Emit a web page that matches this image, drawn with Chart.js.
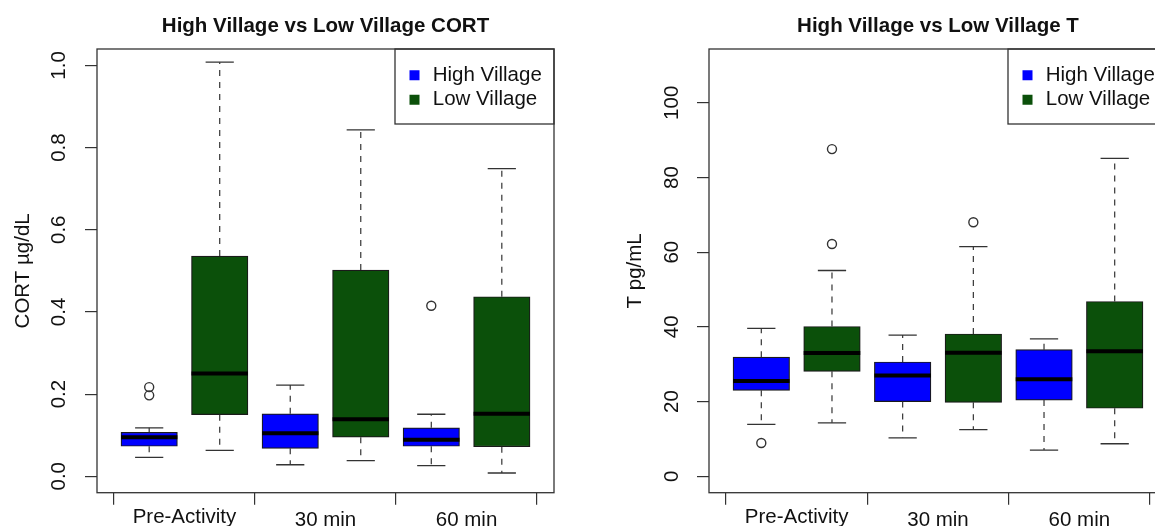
<!DOCTYPE html>
<html>
<head>
<meta charset="utf-8">
<script src="https://cdn.jsdelivr.net/npm/chart.js@4.4.1/dist/chart.umd.min.js"></script>
<style>
html, body { margin: 0; padding: 0; background: #ffffff; overflow: hidden; width: 1155px; height: 526px; }
#c1 { position: absolute; left: 0; top: 0; }
#c2 { position: absolute; left: 600px; top: 0; }
</style>
</head>
<body>
<canvas id="c1" width="578" height="526"></canvas>
<canvas id="c2" width="600" height="526"></canvas>
<script>
// ---------- data ----------
const categories = ['Pre-Activity', '30 min', '60 min'];
const groups = ['High Village', 'Low Village'];

// CORT (µg/dL)
const cortHighMin = [0.046, 0.028, 0.026];
const cortHighQ1  = [0.073, 0.068, 0.073];
const cortHighMed = [0.095, 0.105, 0.089];
const cortHighQ3  = [0.107, 0.152, 0.118];
const cortHighMax = [0.118, 0.222, 0.151];
const cortHighOut = [[0.197, 0.217], [], [0.415]];
const cortLowMin  = [0.063, 0.038, 0.008];
const cortLowQ1   = [0.150, 0.095, 0.072];
const cortLowMed  = [0.250, 0.139, 0.152];
const cortLowQ3   = [0.536, 0.502, 0.437];
const cortLowMax  = [1.008, 0.843, 0.749];
const cortLowOut  = [[], [], []];
const cortTicks   = [0, 0.2, 0.4, 0.6, 0.8, 1.0];

// T (pg/mL)
const tHighMin = [13.9, 10.3, 7.0];
const tHighQ1  = [23.0, 20.0, 20.4];
const tHighMed = [25.5, 27.0, 26.0];
const tHighQ3  = [31.9, 30.6, 33.9];
const tHighMax = [39.6, 37.8, 36.8];
const tHighOut = [[8.9], [], []];
const tLowMin  = [14.3, 12.5, 8.7];
const tLowQ1   = [28.1, 19.8, 18.2];
const tLowMed  = [33.0, 33.1, 33.5];
const tLowQ3   = [40.1, 38.1, 46.8];
const tLowMax  = [55.1, 61.5, 85.1];
const tLowOut  = [[62.2, 87.6], [68.0], []];
const tTicks   = [0, 20, 40, 60, 80, 100];

// ---------- styling ----------
const FONT = "'Liberation Sans', Arial, Helvetica, sans-serif";
const TXT = '#111111';
const LINE = '#333333';
const COLORS = ['#0000ff', '#0b500a'];

const framePlugin = {
  id: 'frame',
  afterLayout(chart, args, opts) {
    const lg = chart.legend;
    const a = chart.chartArea;
    if (!lg) return;
    const fl = a.right - opts.legendW;
    lg.left = fl + 7.5;
    lg.top = a.top + 12;
    lg.right = a.right;
    lg.bottom = a.top + opts.legendH;
  },
  afterDraw(chart, args, opts) {
    const { ctx, chartArea: a } = chart;
    ctx.save();
    ctx.strokeStyle = opts.color;
    ctx.lineWidth = opts.width;
    ctx.strokeRect(a.left, a.top, a.right - a.left, a.bottom - a.top);
    ctx.strokeRect(a.right - opts.legendW, a.top, opts.legendW, opts.legendH);
    ctx.restore();
  }
};

function boxPx(ctx) {
  const x = ctx.chart.scales.x;
  if (!x) return 56;
  return Math.abs(x.getPixelForValue(0.8) - x.getPixelForValue(0));
}

function makeChart(id, spec) {
  const series = [spec.high, spec.low];
  const posOf = (i, g) => 2 * i + 1 + g;
  const datasets = [];
  series.forEach((d, g) => {
    datasets.push({
      type: 'bar',
      label: groups[g],
      data: categories.map((c, i) => ({ x: posOf(i, g), y: [d.q1[i], d.q3[i]] })),
      backgroundColor: COLORS[g],
      borderColor: '#1a1a1a',
      borderWidth: 1.2,
      borderSkipped: false,
      grouped: false,
      barThickness: boxPx,
      order: 5
    });
  });
  const whisk = [], caps = [], meds = [], outs = [];
  series.forEach((d, g) => categories.forEach((c, i) => {
    const p = posOf(i, g);
    whisk.push({ x: p, y: d.q3[i] }, { x: p, y: d.max[i] }, { x: p, y: null },
               { x: p, y: d.q1[i] }, { x: p, y: d.min[i] }, { x: p, y: null });
    caps.push({ x: p - 0.2, y: d.max[i] }, { x: p + 0.2, y: d.max[i] }, { x: p, y: null },
              { x: p - 0.2, y: d.min[i] }, { x: p + 0.2, y: d.min[i] }, { x: p, y: null });
    meds.push({ x: p - 0.4, y: d.med[i] }, { x: p + 0.4, y: d.med[i] }, { x: p, y: null });
    d.out[i].forEach(v => outs.push({ x: p, y: v }));
  }));
  datasets.push({
    type: 'line', label: 'whiskers', data: whisk, borderColor: LINE, borderWidth: 1.2,
    borderDash: [6, 6], pointRadius: 0, spanGaps: false, fill: false, tension: 0, order: 4
  });
  datasets.push({
    type: 'line', label: 'staples', data: caps, borderColor: LINE, borderWidth: 1.3,
    pointRadius: 0, spanGaps: false, fill: false, tension: 0, order: 4
  });
  datasets.push({
    type: 'line', label: 'medians', data: meds, borderColor: '#000000', borderWidth: 4,
    borderCapStyle: 'butt', pointRadius: 0, spanGaps: false, fill: false, tension: 0, order: 1
  });
  datasets.push({
    type: 'line', label: 'outliers', data: outs, showLine: false, pointStyle: 'circle',
    pointRadius: 4.5, pointBorderWidth: 1.4, pointBorderColor: LINE,
    pointBackgroundColor: 'rgba(0,0,0,0)', order: 1
  });

  const xTickValues = [];
  for (let v = 0.5; v <= 2 * categories.length + 0.5; v += 1) xTickValues.push(v);
  const labelIndex = v => { const k = (v - 1.5) / 2; return Number.isInteger(k) ? k : -1; };

  return new Chart(document.getElementById(id), {
    type: 'bar',
    data: { datasets },
    options: {
      responsive: false,
      animation: false,
      events: [],
      layout: { padding: { left: 0, right: spec.padRight, top: 0, bottom: 0 } },
      scales: {
        x: {
          type: 'linear', min: 0.26, max: 6.74, offset: false,
          afterBuildTicks: ax => { ax.ticks = xTickValues.map(v => ({ value: v })); },
          afterFit: ax => { ax.height = 33.3; },
          ticks: {
            autoSkip: false, minRotation: 0, maxRotation: 0, padding: 0, color: TXT,
            font: c => ({ family: FONT, size: 20.5,
              lineHeight: (c.tick && labelIndex(c.tick.value) === 0) ? 1.2 : 1.52 }),
            callback: v => { const k = labelIndex(v); return k >= 0 ? categories[k] : ''; }
          },
          grid: {
            display: true, drawOnChartArea: false, drawTicks: true, tickLength: 12, offset: false,
            lineWidth: 1.2,
            tickColor: c => {
              const k = c.tick ? (c.tick.value - 0.5) : 1;
              return (Number.isInteger(k) && k % 2 === 0) ? LINE : 'rgba(0,0,0,0)';
            }
          },
          border: { display: false }
        },
        y: {
          type: 'linear', min: spec.yMin, max: spec.yMax,
          afterBuildTicks: ax => { ax.ticks = spec.ticks.map(v => ({ value: v })); },
          afterFit: ax => { ax.width = spec.yAxisW; },
          ticks: {
            minRotation: 90, maxRotation: 90, crossAlign: 'center', padding: spec.yTickPad,
            color: TXT, font: { family: FONT, size: 20.5 }, callback: spec.fmt
          },
          grid: { display: true, drawOnChartArea: false, drawTicks: true, tickLength: 12, color: LINE, lineWidth: 1.2 },
          border: { display: false },
          title: {
            display: true, text: spec.ylab, color: TXT, font: { family: FONT, size: 20.5 },
            padding: { top: spec.yTitlePad, bottom: 0 }
          }
        }
      },
      plugins: {
        tooltip: { enabled: false },
        title: {
          display: true, text: spec.title, fullSize: false, color: TXT,
          font: { family: FONT, size: 20.5, weight: 'bold' },
          padding: { top: 14.4, bottom: 10 }
        },
        legend: {
          display: true, position: 'chartArea', align: 'start',
          labels: {
            filter: item => groups.includes(item.text),
            generateLabels: chart => Chart.defaults.plugins.legend.labels.generateLabels(chart)
              .map(l => Object.assign(l, { lineWidth: 0, strokeStyle: 'rgba(0,0,0,0)', pointStyle: 'rect' })),
            usePointStyle: true, boxWidth: 16, boxHeight: 10, padding: 4,
            color: TXT, font: { family: FONT, size: 20.5 }
          }
        },
        frame: { color: LINE, width: 1.3, legendW: 159, legendH: 75 }
      }
    },
    plugins: [framePlugin]
  });
}

makeChart('c1', {
  title: 'High Village vs Low Village CORT',
  ylab: 'CORT µg/dL',
  high: { min: cortHighMin, q1: cortHighQ1, med: cortHighMed, q3: cortHighQ3, max: cortHighMax, out: cortHighOut },
  low:  { min: cortLowMin,  q1: cortLowQ1,  med: cortLowMed,  q3: cortLowQ3,  max: cortLowMax,  out: cortLowOut },
  ticks: cortTicks, fmt: v => Number(v).toFixed(1),
  yMin: -0.04, yMax: 1.04,
  yAxisW: 97, padRight: 24, yTickPad: 11, yTitlePad: 11
});

makeChart('c2', {
  title: 'High Village vs Low Village T',
  ylab: 'T pg/mL',
  high: { min: tHighMin, q1: tHighQ1, med: tHighMed, q3: tHighQ3, max: tHighMax, out: tHighOut },
  low:  { min: tLowMin,  q1: tLowQ1,  med: tLowMed,  q3: tLowQ3,  max: tLowMax,  out: tLowOut },
  ticks: tTicks, fmt: v => String(v),
  yMin: -4.4, yMax: 114.4,
  yAxisW: 109, padRight: 33, yTickPad: 7.4, yTitlePad: 22.7
});
</script>
</body>
</html>
